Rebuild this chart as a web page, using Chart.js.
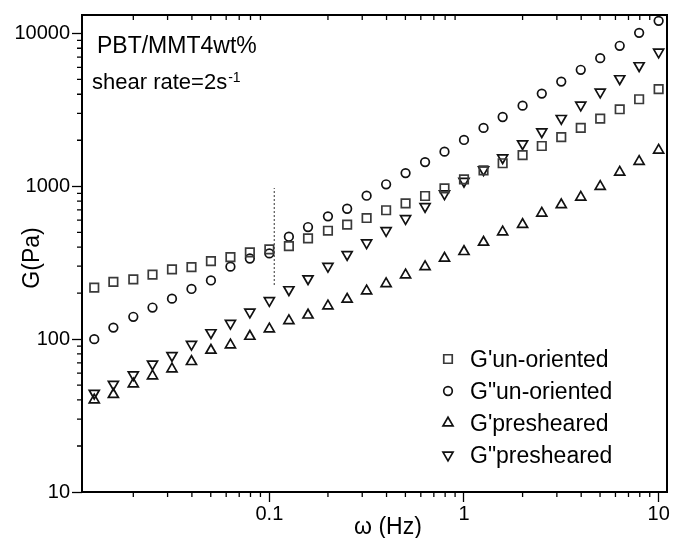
<!DOCTYPE html>
<html>
<head>
<meta charset="utf-8">
<script src="https://cdn.jsdelivr.net/npm/chart.js@4/dist/chart.umd.min.js"></script>
<style>
  html, body { margin: 0; padding: 0; background: #fff; }
  #wrap { width: 675px; height: 538px; }
</style>
</head>
<body>
<div id="wrap"><canvas id="chart_G"></canvas></div>
<script>
"use strict";

// 周波数 (Hz)
const freq_Hz = [0.0126, 0.0158, 0.0200, 0.0251, 0.0316, 0.0398, 0.0501, 0.0631, 0.0794, 0.100,
                 0.126,  0.158,  0.200,  0.251,  0.316,  0.398,  0.501,  0.631,  0.794,  1.00,
                 1.26,   1.58,   2.00,   2.51,   3.16,   3.98,   5.01,   6.31,   7.94,   10.0];

// G' / G" (Pa)
const gp_Unori  = [217, 237, 246, 264, 286, 296, 324, 344, 370, 387,
                   406, 456, 512, 561, 620, 697, 774, 864, 970, 1110,
                   1270, 1415, 1600, 1835, 2100, 2410, 2770, 3190, 3710, 4320];
const gpp_Unori = [100, 119, 140, 161, 184, 213, 242, 298, 337, 364,
                   468, 541, 636, 713, 868, 1030, 1220, 1440, 1685, 2010,
                   2410, 2840, 3370, 4040, 4840, 5780, 6890, 8300, 10090, 12090];
const gp_Pre    = [40.0, 43.4, 50.9, 57.5, 63.8, 71.3, 84.5, 91.6, 104.3, 116.6,
                   132, 143.7, 164.9, 182.3, 206.8, 230.7, 263, 298, 338, 374,
                   430, 503, 562, 667, 757, 849, 997, 1237, 1454, 1723];
const gpp_Pre   = [44.3, 50.7, 58.4, 68.8, 78.2, 92.5, 110.3, 126.9, 150.4, 178.7,
                   210.7, 248.6, 299.7, 358, 426.6, 513.5, 614.8, 737.6, 893, 1080,
                   1283, 1538, 1899, 2275, 2781, 3397, 4133, 5060, 6154, 7555];

// 点線マーカー
const mark_X = [0.106, 0.106];
const mark_Y = [226, 975];

// 目盛り
const x_Major = [0.1, 1, 10];
const x_Minor = [0.02, 0.03, 0.04, 0.05, 0.06, 0.07, 0.08, 0.09,
                 0.2, 0.3, 0.4, 0.5, 0.6, 0.7, 0.8, 0.9,
                 2, 3, 4, 5, 6, 7, 8, 9];
const y_Major = [10, 100, 1000, 10000];
const y_Minor = [20, 30, 40, 50, 60, 70, 80, 90,
                 200, 300, 400, 500, 600, 700, 800, 900,
                 2000, 3000, 4000, 5000, 6000, 7000, 8000, 9000];
const x_Lab = {0.1: '0.1', 1: '1', 10: '10'};
const y_Lab = {10: '10', 100: '100', 1000: '1000', 10000: '10000'};

const FONT = "'Liberation Sans', Arial, sans-serif";
const toPts = (ys) => freq_Hz.map((f, i) => ({x: f, y: ys[i]}));
const mkTicks = (maj, min) => maj.map(v => ({value: v, major: true}))
                                 .concat(min.map(v => ({value: v, major: false})))
                                 .sort((a, b) => a.value - b.value);

// 飾り (副目盛り・枠・文字・凡例)
const g_Deco = {
  id: 'g_Deco',
  afterDraw(chart) {
    const {ctx, chartArea: a, scales: {x, y}} = chart;
    ctx.save();
    ctx.strokeStyle = '#000';
    ctx.lineWidth = 1.3;
    ctx.beginPath();
    x.ticks.forEach(t => {
      if (t.major) return;
      const px = x.getPixelForValue(t.value);
      ctx.moveTo(px, a.bottom); ctx.lineTo(px, a.bottom + 5);
      ctx.moveTo(px, a.top);    ctx.lineTo(px, a.top + 5);
    });
    y.ticks.forEach(t => {
      if (t.major) return;
      const py = y.getPixelForValue(t.value);
      ctx.moveTo(a.left - 5, py); ctx.lineTo(a.left, py);
    });
    ctx.stroke();
    ctx.lineWidth = 2;
    ctx.strokeRect(a.left, a.top, a.right - a.left, a.bottom - a.top);

    // 文字
    ctx.fillStyle = '#000';
    ctx.textAlign = 'left';
    ctx.textBaseline = 'alphabetic';
    ctx.font = '23px ' + FONT;
    ctx.fillText('PBT/MMT4wt%', a.left + 15, a.top + 38);
    ctx.font = '22px ' + FONT;
    const s1 = 'shear rate=2s';
    ctx.fillText(s1, a.left + 10, a.top + 74);
    const w1 = ctx.measureText(s1).width;
    ctx.font = '14px ' + FONT;
    ctx.fillText('-1', a.left + 10 + w1 + 1, a.top + 67);

    // 軸タイトル
    ctx.font = '23px ' + FONT;
    ctx.textAlign = 'center';
    ctx.fillText('ω (Hz)', 388, a.bottom + 42);
    ctx.save();
    ctx.translate(39, 258);
    ctx.rotate(-Math.PI / 2);
    ctx.fillText('G(Pa)', 0, 0);
    ctx.restore();

    // 凡例
    ctx.textAlign = 'left';
    ctx.font = '23px ' + FONT;
    chart.data.datasets.forEach((ds, i) => {
      if (!ds.label) return;
      const yy = a.bottom - 133 + i * 32;
      ctx.strokeStyle = ds.borderColor;
      ctx.fillStyle = 'rgba(0,0,0,0)';
      ctx.lineWidth = ds.borderWidth;
      Chart.helpers.drawPoint(ctx, {
        pointStyle: ds.pointStyle, radius: ds.pointRadius,
        rotation: ds.pointRotation || 0, borderWidth: ds.borderWidth
      }, a.right - 219, yy);
      ctx.fillStyle = '#000';
      ctx.fillText(ds.label, a.right - 197, yy + 8);
    });
    ctx.restore();
  }
};

const mk = (label, ys, style, r, rot, col) => ({
  label: label, data: toPts(ys),
  pointStyle: style, pointRadius: r, pointRotation: rot,
  borderColor: col, backgroundColor: 'rgba(0,0,0,0)', borderWidth: 1.7,
  showLine: false
});

const ctx = document.getElementById('chart_G');
const chart = new Chart(ctx, {
  type: 'scatter',
  data: {
    datasets: [
      mk("G'un-oriented", gp_Unori,  'rect',     6,   0,   '#3a3a3a'),
      mk('G"un-oriented', gpp_Unori, 'circle',   4.3, 0,   '#111'),
      mk("G'presheared",  gp_Pre,    'triangle', 5.8, 0,   '#111'),
      mk('G"presheared',  gpp_Pre,   'triangle', 5.8, 180, '#111'),
      {
        label: '', data: mark_X.map((v, i) => ({x: v, y: mark_Y[i]})),
        showLine: true, pointRadius: 0, borderColor: '#555',
        borderWidth: 1.2, borderDash: [2, 2]
      }
    ]
  },
  options: {
    responsive: true,
    maintainAspectRatio: false,
    animation: false,
    devicePixelRatio: 1,
    layout: { padding: { left: 0, right: 8, top: 15, bottom: 0 } },
    plugins: { legend: { display: false }, tooltip: { enabled: false } },
    scales: {
      x: {
        type: 'logarithmic', position: 'bottom',
        min: 0.0109, max: 11.04,
        afterBuildTicks: sc => { sc.ticks = mkTicks(x_Major, x_Minor); },
        afterFit: sc => { sc.height = 46; },
        grid: {
          display: true, drawOnChartArea: false, drawTicks: true,
          tickLength: 10, tickWidth: 1.3,
          tickColor: c => (c.tick && c.tick.major) ? '#000' : 'rgba(0,0,0,0)'
        },
        border: { display: false },
        ticks: {
          autoSkip: false, maxRotation: 0, padding: 0, color: '#000',
          font: { family: FONT, size: 20 },
          callback: v => x_Lab[v] || ''
        }
      },
      y: {
        type: 'logarithmic', position: 'left',
        min: 10, max: 13200,
        afterBuildTicks: sc => { sc.ticks = mkTicks(y_Major, y_Minor); },
        afterFit: sc => { sc.width = 82; },
        grid: {
          display: true, drawOnChartArea: false, drawTicks: true,
          tickLength: 10, tickWidth: 1.3,
          tickColor: c => (c.tick && c.tick.major) ? '#000' : 'rgba(0,0,0,0)'
        },
        border: { display: false },
        ticks: {
          autoSkip: false, padding: 2, color: '#000',
          font: { family: FONT, size: 20 },
          callback: v => y_Lab[v] || ''
        }
      }
    }
  },
  plugins: [g_Deco]
});
</script>
</body>
</html>
